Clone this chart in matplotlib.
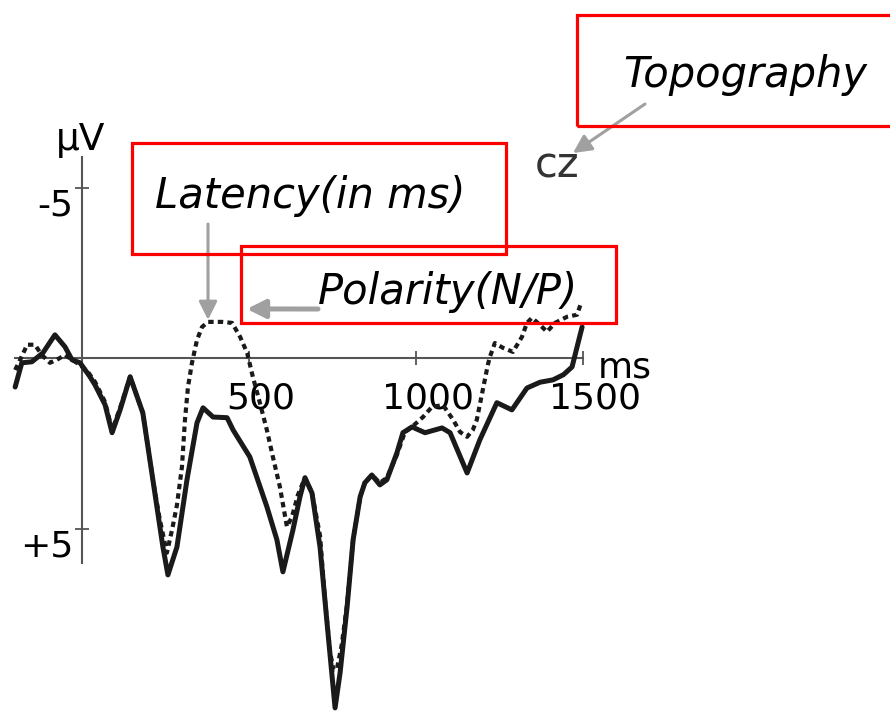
import numpy as np
import matplotlib
matplotlib.use("Agg")
import matplotlib.pyplot as plt
from matplotlib.patches import Rectangle
from matplotlib.transforms import ScaledTranslation

# ERP at Cz, two conditions (time in ms, amplitude in uV, negative drawn upward)
t_solid = [-200, -180, -150, -117, -81, -51, -30, -6, 24, 39, 69, 90, 114, 144,
           182, 212, 242, 257, 284, 314, 344, 362, 392, 434, 452, 502, 553, 583,
           601, 631, 652, 667, 688, 712, 733, 757, 772, 793, 811, 832, 846, 867,
           891, 912, 942, 960, 987, 1026, 1077, 1101, 1152, 1190, 1241, 1286,
           1331, 1370, 1409, 1440, 1466, 1481, 1496]
v_solid = [0.84, 0.13, 0.10, -0.16, -0.69, -0.34, 0.04, 0.13, 0.54, 0.78, 1.36,
           2.18, 1.51, 0.54, 1.60, 3.56, 5.53, 6.35, 5.53, 3.56, 1.89, 1.45, 1.72,
           1.74, 2.10, 2.89, 4.35, 5.32, 6.26, 5.03, 4.06, 3.50, 3.95, 5.53, 7.76,
           10.25, 9.22, 7.29, 5.32, 4.06, 3.65, 3.42, 3.71, 3.56, 2.77, 2.18, 2.01,
           2.18, 2.04, 2.18, 3.36, 2.39, 1.30, 1.51, 0.87, 0.70, 0.63, 0.48, 0.25,
           -0.34, -0.92]

t_dotted = [-200, -185, -164, -141, -120, -96, -75, -51, -30, -6, 18, 39, 69, 90,
            114, 144, 182, 212, 233, 254, 270, 284, 299, 308, 317, 329, 344, 359,
            377, 419, 449, 473, 494, 511, 532, 553, 571, 592, 613, 628, 646, 667,
            688, 712, 727, 742, 752, 762, 777, 793, 811, 832, 846, 867, 891, 912,
            942, 966, 987, 1020, 1047, 1080, 1110, 1131, 1152, 1169, 1181, 1199,
            1214, 1220, 1235, 1259, 1289, 1316, 1331, 1346, 1370, 1391, 1415,
            1451, 1481, 1493]
v_dotted = [0.34, 0.04, -0.40, -0.40, -0.10, 0.13, 0.04, -0.10, 0.04, 0.19, 0.40,
            0.69, 1.28, 2.10, 1.45, 0.54, 1.60, 3.56, 4.74, 5.70, 5.00, 4.30, 3.18,
            1.80, 0.84, 0.13, -0.54, -0.92, -1.07, -1.07, -1.04, -0.63, -0.16, 0.54,
            1.30, 2.10, 2.89, 3.77, 4.94, 4.65, 4.00, 3.50, 3.95, 5.20, 7.10, 8.60,
            9.13, 9.13, 8.40, 7.20, 5.32, 4.06, 3.65, 3.42, 3.65, 3.50, 2.83, 2.16,
            2.01, 1.72, 1.42, 1.37, 1.80, 2.16, 2.30, 2.10, 1.80, 0.92, 0.19, -0.04,
            -0.45, -0.31, -0.19, -0.63, -1.04, -1.19, -0.98, -0.78, -1.04, -1.22,
            -1.28, -1.63]

x_ticks = [500, 1000, 1500]
x_tick_labels = ['500', '1000', '1500']
y_ticks = [-5, 5]
y_tick_labels = ['-5', '+5']

# peaks the callouts point at (ms, uV)
latency_peak = (377, -1.13)
polarity_peak = (493, -1.45)

plt.rcParams['font.family'] = ['DejaVu Sans']

fig = plt.figure(figsize=(8.9, 7.13), dpi=100)
fig.patch.set_facecolor('white')
ax = fig.add_axes([0, 0, 1, 1])
ax.patch.set_visible(False)

ink = '#1a1a1a'
ax.plot(t_solid, v_solid, color=ink, lw=3.6, solid_joinstyle='round',
        solid_capstyle='round', zorder=3)
ax.plot(t_dotted, v_dotted, color=ink, lw=3.0, dashes=(1.3, 1.0),
        dash_joinstyle='round', zorder=3)

ax.set_xlim(-245.3, 2417)
ax.set_ylim(10.40, -10.51)

for side in ('top', 'right'):
    ax.spines[side].set_visible(False)
axis_col = '#555555'
ax.spines['left'].set_position(('data', 0))
ax.spines['bottom'].set_position(('data', 0))
ax.spines['left'].set_bounds(-5.9, 6.0)
ax.spines['bottom'].set_bounds(-200, 1500)
for side in ('left', 'bottom'):
    ax.spines[side].set_color(axis_col)
    ax.spines[side].set_linewidth(1.5)
    ax.spines[side].set_zorder(2)

ax.set_xticks(x_ticks, labels=x_tick_labels)
ax.set_yticks(y_ticks, labels=y_tick_labels)
ax.tick_params(direction='inout', length=10, width=1.3, color=axis_col,
               labelsize=26, labelcolor='black')
ax.tick_params(axis='x', pad=12)
ax.tick_params(axis='y', pad=1)
for lab in ax.get_xticklabels():
    lab.set_transform(lab.get_transform() + ScaledTranslation(0.12, 0, fig.dpi_scale_trans))
for lab in ax.get_yticklabels():
    lab.set_transform(lab.get_transform() + ScaledTranslation(0, -0.14, fig.dpi_scale_trans))

# axis unit labels
fig.text(0.091, 0.7896, 'μV', fontsize=27, ha='center', va='baseline')
fig.text(0.672, 0.4712, 'ms', fontsize=26, ha='left', va='baseline')
fig.text(0.601, 0.7504, 'cz', fontsize=30, color='#333333', ha='left', va='baseline')

# callout boxes
box_kw = dict(fill=False, edgecolor='#ff0000', lw=2.3, transform=fig.transFigure,
              zorder=5, clip_on=False)
fig.add_artist(Rectangle((0.1483, 0.6438), 0.4202, 0.1557, **box_kw))
fig.add_artist(Rectangle((0.2713, 0.5470), 0.4208, 0.1080, **box_kw))
fig.add_artist(Rectangle((0.6483, 0.8233), 0.4000, 0.1557, **box_kw))

txt_kw = dict(fontsize=30, style='italic', ha='left', va='baseline', color='black')
fig.text(0.1742, 0.7083, 'Latency(in ms)', **txt_kw)
fig.text(0.3573, 0.5736, 'Polarity(N/P)', **txt_kw)
fig.text(0.7000, 0.8780, 'Topography', **txt_kw)

arrow_col = '#a0a0a0'
ax.annotate('', xy=latency_peak, xycoords='data',
            xytext=(0.2337, 0.6858), textcoords='figure fraction',
            arrowprops=dict(arrowstyle='-|>,head_length=0.5,head_width=0.25',
                            color=arrow_col, lw=2.2, mutation_scale=22,
                            shrinkA=0, shrinkB=0), zorder=4)
ax.annotate('', xy=polarity_peak, xycoords='data',
            xytext=(0.3573, 0.5666), textcoords='figure fraction',
            arrowprops=dict(arrowstyle='-|>,head_length=0.5,head_width=0.25',
                            color=arrow_col, lw=3.6, mutation_scale=22,
                            shrinkA=0, shrinkB=0), zorder=4)
ax.annotate('', xy=(0.6438, 0.7854), xycoords='figure fraction',
            xytext=(0.7247, 0.8541), textcoords='figure fraction',
            arrowprops=dict(arrowstyle='-|>,head_length=0.5,head_width=0.25',
                            color=arrow_col, lw=2.2, mutation_scale=22,
                            shrinkA=0, shrinkB=0), zorder=4)

fig.savefig('out.png', dpi=100)
